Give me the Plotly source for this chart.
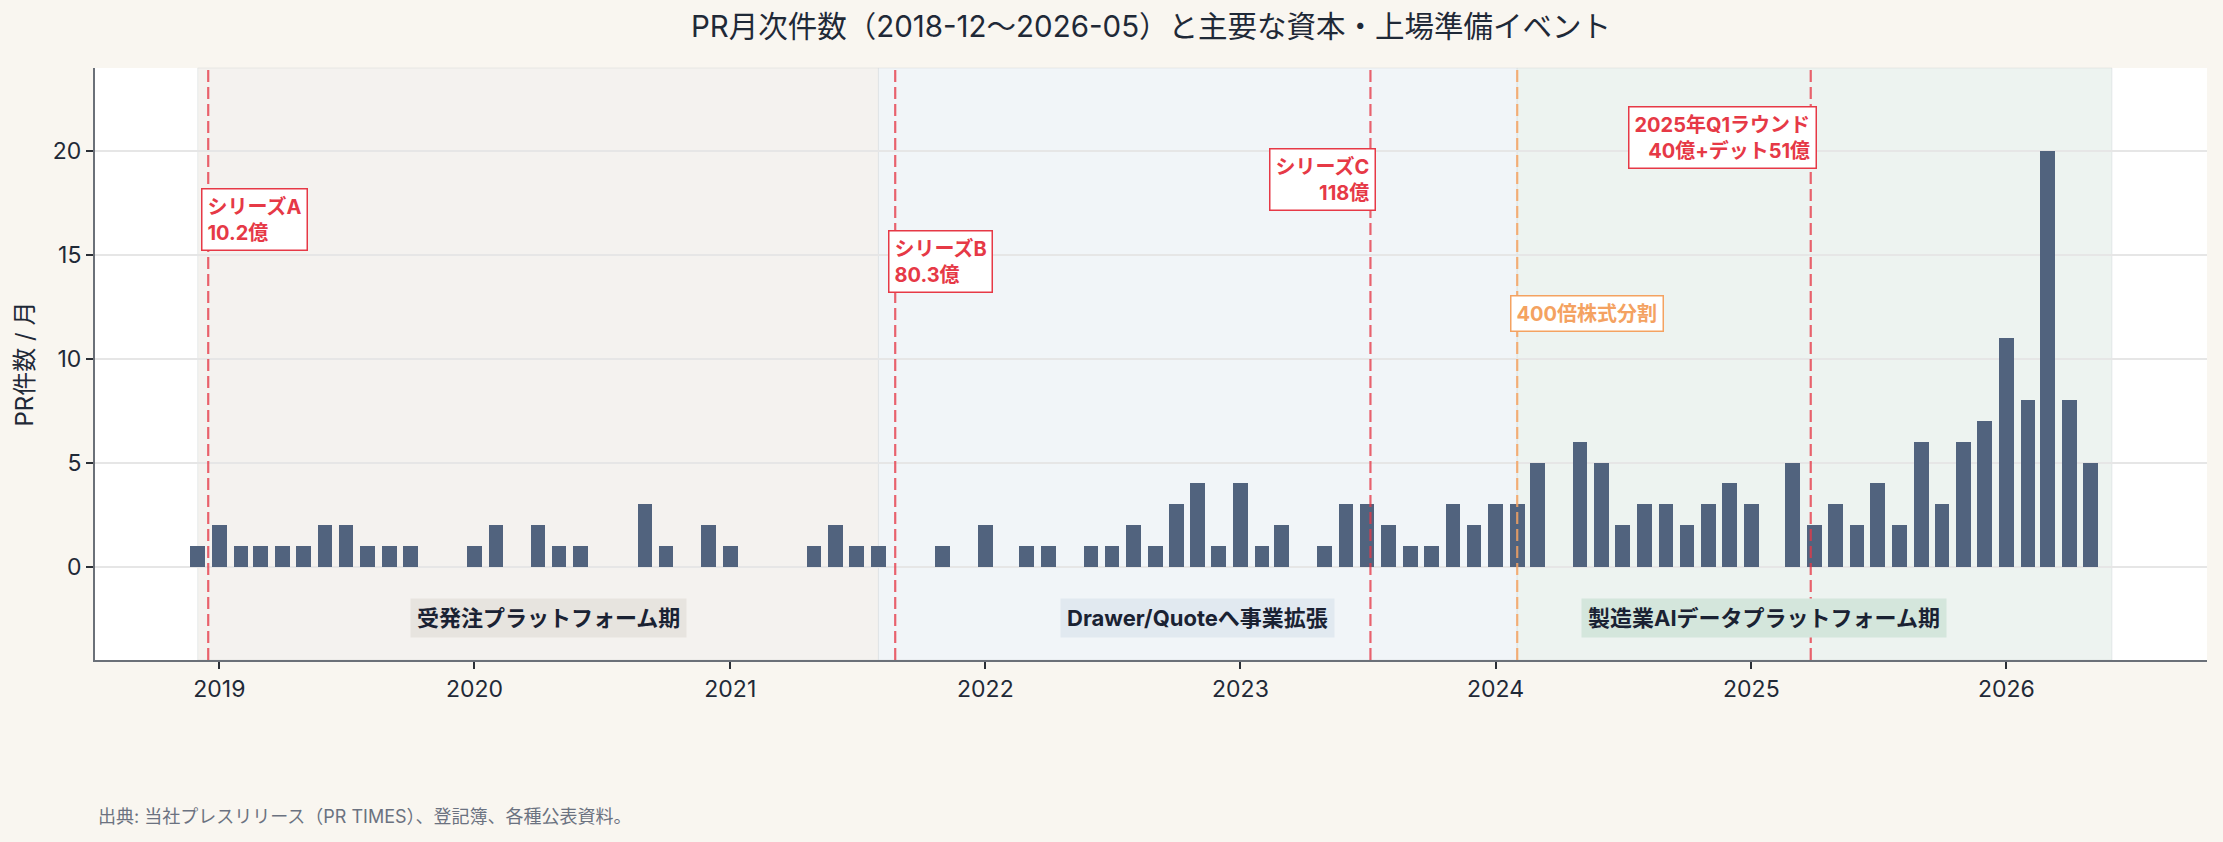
import plotly.graph_objects as go
import pandas as pd

# ---------------- data ----------------
months = pd.date_range("2018-12-01", "2026-05-01", freq="MS")
pr_counts = (
    [1]                                              # 2018-12
    + [2, 1, 1, 1, 1, 2, 2, 1, 1, 1, 0, 0]           # 2019
    + [1, 2, 0, 2, 1, 1, 0, 0, 3, 1, 0, 2]           # 2020
    + [1, 0, 0, 0, 1, 2, 1, 1, 0, 0, 1, 0]           # 2021
    + [2, 0, 1, 1, 0, 1, 1, 2, 1, 3, 4, 1]           # 2022
    + [4, 1, 2, 0, 1, 3, 3, 2, 1, 1, 3, 2]           # 2023
    + [3, 3, 5, 0, 6, 5, 2, 3, 3, 2, 3, 4]           # 2024
    + [3, 0, 5, 2, 3, 2, 4, 2, 6, 3, 6, 7]           # 2025
    + [11, 8, 20, 8, 5]                              # 2026
)

period_names = ["受発注プラットフォーム期", "Drawer/Quoteへ事業拡張", "製造業AIデータプラットフォーム期"]
period_starts = ["2018-12-01", "2021-08-01", "2024-02-01"]
period_ends = ["2021-08-01", "2024-02-01", "2026-06-01"]
period_label_x = ["2020-04-16", "2022-10-31", "2025-01-19"]
period_fill = ["#f4f2ef", "#f1f5f8", "#edf3f0"]
period_label_bg = ["#e7e4df", "#e1e9f0", "#d4e6dc"]

event_dates = ["2018-12-16", "2021-08-25", "2023-07-06", "2024-02-01", "2025-03-27"]
event_labels = ["シリーズA<br>10.2億", "シリーズB<br>80.3億", "シリーズC<br>118億",
                "400倍株式分割", "2025年Q1ラウンド<br>40億+デット51億"]
event_kind = ["funding", "funding", "funding", "split", "funding"]
event_label_y = [18.2, 16.19, 20.17, 13.06, 22.17]
event_side = ["left", "left", "right", "left", "right"]

title_text = "PR月次件数（2018-12〜2026-05）と主要な資本・上場準備イベント"
y_title = "PR件数 / 月"
source_text = "出典: 当社プレスリリース（PR TIMES）、登記簿、各種公表資料。"
year_ticks = ["2019-01-01", "2020-01-01", "2021-01-01", "2022-01-01",
              "2023-01-01", "2024-01-01", "2025-01-01", "2026-01-01"]
year_labels = ["2019", "2020", "2021", "2022", "2023", "2024", "2025", "2026"]

# ---------------- style ----------------
FONT = "Inter, 'Noto Sans CJK JP', sans-serif"
RED = "#e63946"
ORANGE = "#f4a261"
BAR = "#51637e"
TXT = "#1f2937"

fig = go.Figure()
fig.add_trace(go.Bar(
    x=months, y=pr_counts,
    width=21 * 24 * 3600 * 1000,
    marker=dict(color=BAR, line=dict(width=0)),
    hovertemplate="%{x|%Y-%m}: %{y}件<extra></extra>",
))

shapes = []
annotations = []

for name, s, e, lx, fc, lb in zip(period_names, period_starts, period_ends,
                                  period_label_x, period_fill, period_label_bg):
    shapes.append(dict(type="rect", xref="x", yref="paper", x0=s, x1=e, y0=0, y1=1,
                       fillcolor=fc, line=dict(color="rgba(200,205,210,0.35)", width=1),
                       layer="below"))
    annotations.append(dict(x=lx, y=-2.5, xref="x", yref="y", text="<b>%s</b>" % name,
                            showarrow=False, font=dict(family=FONT, size=22, color="#1a2233"),
                            bgcolor=lb, borderpad=6, xanchor="center", yanchor="middle"))

for d, lab, kind, ly, side in zip(event_dates, event_labels, event_kind, event_label_y, event_side):
    col = RED if kind == "funding" else ORANGE
    lcol = "rgba(230,57,70,0.78)" if kind == "funding" else "rgba(244,162,97,0.85)"
    shapes.append(dict(type="line", xref="x", yref="paper", x0=d, x1=d, y0=0, y1=1,
                       line=dict(color=lcol, width=2.2, dash="12px,5px"), layer="above"))
    annotations.append(dict(
        x=d, y=ly, xref="x", yref="y", text="<b>%s</b>" % lab, showarrow=False,
        font=dict(family=FONT, size=20, color=col), align=side,
        xanchor=side, yanchor="top", xshift=-7 if side == "left" else 6,
        bgcolor="white", bordercolor=col, borderwidth=1.5, borderpad=5))

annotations.append(dict(x=0.0005, y=-0.265, xref="paper", yref="paper", text=source_text,
                        showarrow=False, xanchor="left", yanchor="middle",
                        font=dict(family=FONT, size=18, color="#6b7280")))

fig.update_layout(
    width=2223, height=842,
    margin=dict(l=95, r=16, t=68, b=182),
    paper_bgcolor="#f9f6f0", plot_bgcolor="white",
    font=dict(family=FONT, color=TXT),
    title=dict(text=title_text, x=0.5, xref="paper", y=1 - 27 / 842, yref="container",
               xanchor="center", yanchor="middle", font=dict(family=FONT, size=29.5, color=TXT)),
    showlegend=False, bargap=0,
    shapes=shapes, annotations=annotations,
    xaxis=dict(type="date", range=["2018-07-07", "2026-10-15"],
               tickvals=year_ticks, ticktext=year_labels,
               showgrid=False, zeroline=False,
               showline=True, linecolor="#6b7078", linewidth=2,
               ticks="outside", ticklen=7, tickwidth=2, tickcolor="#2b2f36",
               tickfont=dict(family=FONT, size=23, color=TXT)),
    yaxis=dict(range=[-4.5, 24], tickvals=[0, 5, 10, 15, 20],
               showgrid=True, gridcolor="#e6e6e6", gridwidth=1.5, zeroline=False,
               showline=True, linecolor="#6b7078", linewidth=2,
               ticks="outside", ticklen=7, tickwidth=2, tickcolor="#2b2f36",
               tickfont=dict(family=FONT, size=23, color=TXT),
               title=dict(text=y_title, standoff=12, font=dict(family=FONT, size=24, color=TXT))),
)

fig.write_html("out.html")
